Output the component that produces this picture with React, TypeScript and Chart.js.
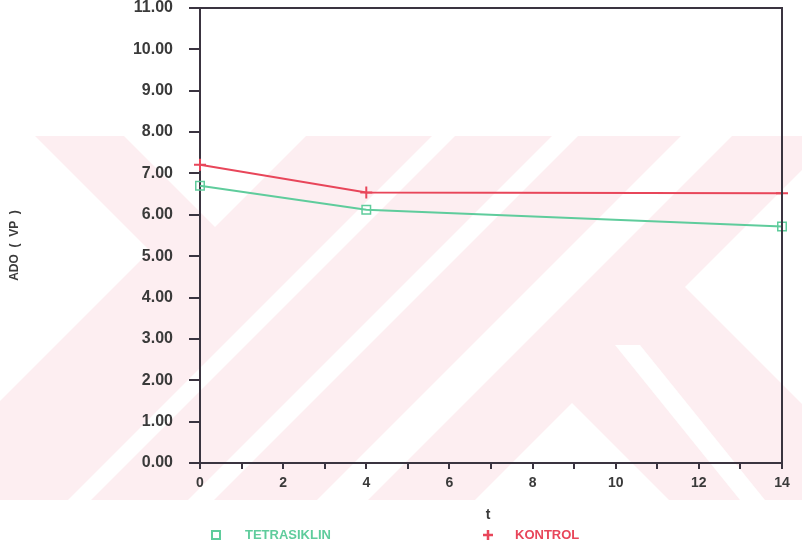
import React, { useEffect, useRef } from 'react';
import { Chart, registerables } from 'chart.js';

Chart.register(...registerables);

// ---- data ----
const days = [0, 4, 14];
const tetrasiklin = [6.7, 6.12, 5.72];
const kontrol = [7.21, 6.54, 6.52];
const seriesNames = ['TETRASIKLIN', 'KONTROL'];
const xTitle = 't';
const yTitle = 'ADO  (  VP  )';
const xMin = 0;
const xMax = 14;
const yMin = 0;
const yMax = 11;

const GREEN = '#5fcc9c';
const RED = '#e8465a';
const AXIS = '#3a3440';
const TEXT = '#3a3a3a';
const PINK = 'rgb(253,238,241)';
const FONT = '"Liberation Sans", Arial, sans-serif';

// faint background watermark (decoration only)
const watermarkPlugin = {
  id: 'watermark',
  beforeDraw(chart: any) {
    const ctx = chart.ctx;
    ctx.save();
    ctx.fillStyle = '#ffffff';
    ctx.fillRect(0, 0, chart.width, chart.height);
    ctx.fillStyle = PINK;
    ctx.fillRect(0, 136, 802, 364);
    ctx.fillStyle = '#ffffff';
    const polys: number[][] = [
      [0, 136, 35, 136, 150, 251, 0, 401],
      [124, 136, 306, 136, 215, 227],
      [432, 136, 455, 136, 91, 500, 68, 500],
      [552, 136, 578, 136, 214, 500, 188, 500],
      [681, 136, 732, 136, 368, 500, 317, 500],
      [802, 170, 685, 287, 802, 404],
      [615, 345, 640, 345, 765, 500, 740, 500],
      [572, 403, 669, 500, 475, 500],
    ];
    for (const p of polys) {
      ctx.beginPath();
      ctx.moveTo(p[0], p[1]);
      for (let i = 2; i < p.length; i += 2) ctx.lineTo(p[i], p[i + 1]);
      ctx.closePath();
      ctx.fill();
    }
    ctx.restore();
  },
};

const framePlugin = {
  id: 'frame',
  afterDraw(chart: any) {
    const { ctx, chartArea } = chart;
    const { left, right, top, bottom } = chartArea;
    ctx.save();
    ctx.strokeStyle = AXIS;
    ctx.lineWidth = 2;
    ctx.beginPath();
    ctx.moveTo(left - 11, top);
    ctx.lineTo(right, top);
    ctx.lineTo(right, bottom);
    ctx.stroke();

    // y title
    ctx.fillStyle = TEXT;
    ctx.font = `bold 12px ${FONT}`;
    ctx.textAlign = 'center';
    ctx.textBaseline = 'middle';
    ctx.save();
    ctx.translate(15, (top + bottom) / 2 + 10);
    ctx.rotate(-Math.PI / 2);
    ctx.fillText(yTitle, 0, 0);
    ctx.restore();

    // x title
    ctx.font = `bold 14px ${FONT}`;
    ctx.fillText(xTitle, (left + right) / 2 - 3, 515);

    // legend
    const ly = 535;
    ctx.strokeStyle = GREEN;
    ctx.lineWidth = 2;
    ctx.strokeRect(212, ly - 4, 8, 8);
    ctx.fillStyle = GREEN;
    ctx.font = `bold 13px ${FONT}`;
    ctx.textAlign = 'left';
    ctx.fillText(seriesNames[0], 245, ly);

    ctx.strokeStyle = RED;
    ctx.lineWidth = 2.5;
    ctx.beginPath();
    ctx.moveTo(483, ly);
    ctx.lineTo(493, ly);
    ctx.moveTo(488, ly - 5);
    ctx.lineTo(488, ly + 5);
    ctx.stroke();
    ctx.fillStyle = RED;
    ctx.fillText(seriesNames[1], 515, ly);
    ctx.restore();
  },
};

export default function App() {
  const ref = useRef<HTMLCanvasElement | null>(null);

  useEffect(() => {
    if (!ref.current) return;
    const chart = new Chart(ref.current, {
      type: 'line',
      data: {
        datasets: [
          {
            label: seriesNames[0],
            data: days.map((d, i) => ({ x: d, y: tetrasiklin[i] })),
            borderColor: GREEN,
            borderWidth: 2,
            pointStyle: 'rect',
            pointRadius: 6,
            pointBorderWidth: 1.5,
            pointBorderColor: GREEN,
            pointBackgroundColor: 'rgba(0,0,0,0)',
            tension: 0,
            clip: false as any,
          },
          {
            label: seriesNames[1],
            data: days.map((d, i) => ({ x: d, y: kontrol[i] })),
            borderColor: RED,
            borderWidth: 2,
            pointStyle: 'cross',
            pointRadius: 6,
            pointBorderWidth: 2,
            pointBorderColor: RED,
            tension: 0,
            clip: false as any,
          },
        ],
      },
      options: {
        responsive: false,
        animation: false,
        layout: { padding: { left: 0, top: 8, right: 20, bottom: 0 } },
        plugins: {
          legend: { display: false },
          tooltip: { enabled: false },
        },
        scales: {
          x: {
            type: 'linear',
            min: xMin,
            max: xMax,
            afterFit: (s: any) => {
              s.height = 84;
              s.paddingLeft = 0;
              s.paddingRight = 0;
            },
            border: { display: true, color: AXIS, width: 2 },
            grid: {
              drawOnChartArea: false,
              drawTicks: true,
              tickLength: 6,
              color: AXIS,
              lineWidth: 2,
            },
            ticks: {
              stepSize: 1,
              autoSkip: false,
              maxRotation: 0,
              padding: 6,
              color: TEXT,
              font: { family: FONT, size: 14, weight: 'bold' },
              callback: (v: any) => (Number(v) % 2 === 0 ? String(v) : ''),
            },
          },
          y: {
            type: 'linear',
            min: yMin,
            max: yMax,
            afterFit: (s: any) => {
              s.width = 200;
              s.paddingTop = 0;
              s.paddingBottom = 0;
            },
            border: { display: true, color: AXIS, width: 2 },
            grid: {
              drawOnChartArea: false,
              drawTicks: true,
              tickLength: 11,
              color: AXIS,
              lineWidth: 2,
            },
            ticks: {
              stepSize: 1,
              padding: 16,
              color: TEXT,
              font: { family: FONT, size: 16, weight: 'bold' },
              callback: (v: any) => Number(v).toFixed(2),
            },
          },
        },
      } as any,
      plugins: [watermarkPlugin, framePlugin],
    });
    return () => chart.destroy();
  }, []);

  return (
    <div style={{ position: 'absolute', left: 0, top: 0, width: 802, height: 547 }}>
      <canvas ref={ref} width={802} height={547} style={{ display: 'block' }} />
    </div>
  );
}
